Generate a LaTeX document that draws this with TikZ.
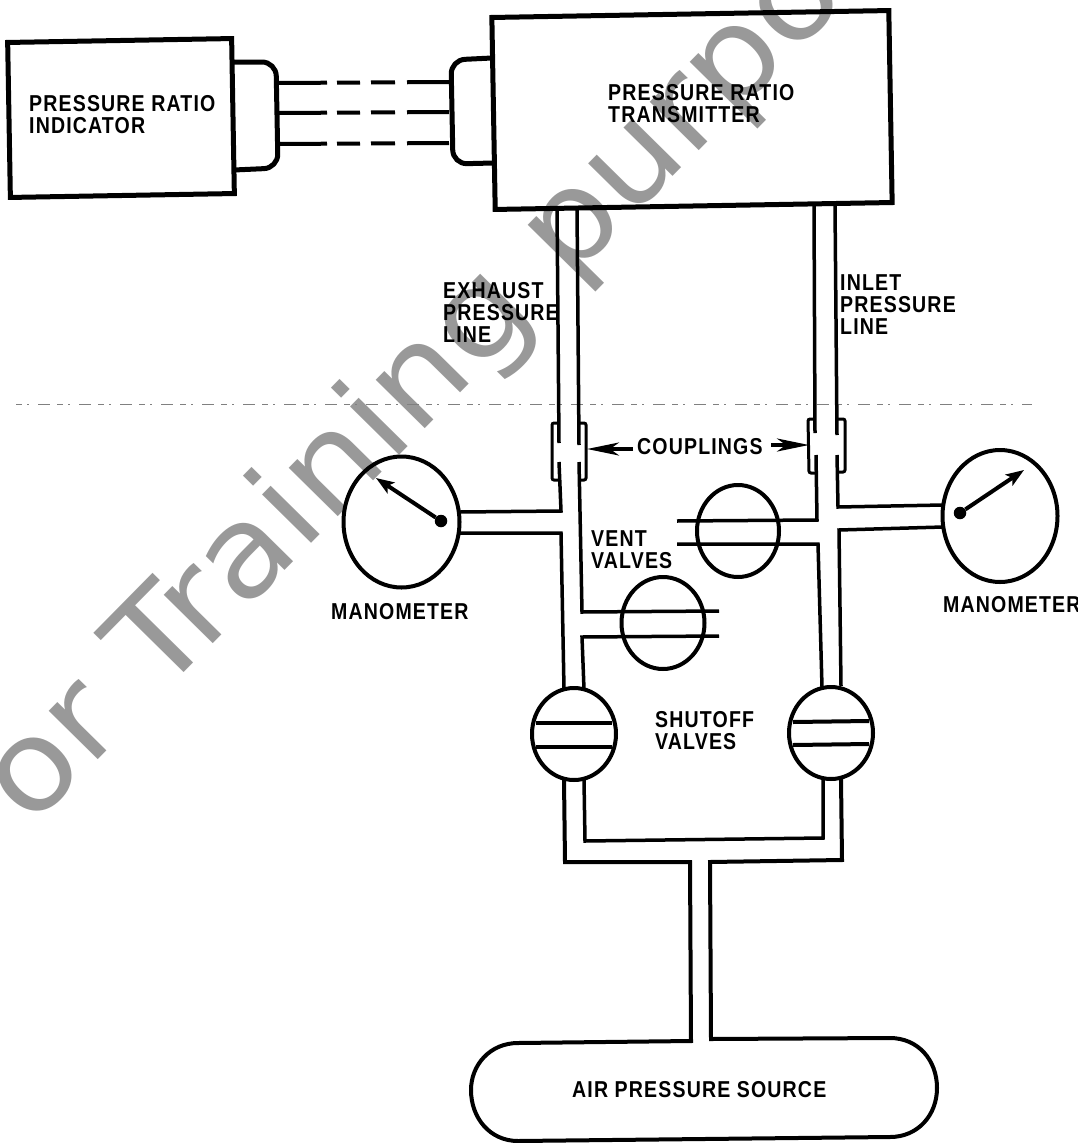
\documentclass[tikz,border=0pt]{standalone}
\usepackage{fontspec}
\setmainfont{Liberation Sans}
\newfontfamily\labfont[FakeStretch=0.85,LetterSpace=5]{Liberation Sans}
\newfontfamily\markfont[FakeStretch=1.085]{DejaVu Sans}
\usetikzlibrary{shapes.geometric,arrows.meta}
\definecolor{wm}{HTML}{999999}
\tikzset{
  x=1pt,y=-1pt,
  boxshape/.style={draw=black,line width=5pt,inner sep=0pt,rotate=1,line join=miter},
  stub/.style={draw=black,line width=5pt,rounded corners=14pt},
  wire/.style={draw=black,line width=4pt,dash pattern=on 50pt off 10pt on 23pt off 11pt on 24pt off 12pt on 42pt},
  pipe/.style={draw=black,line width=3.5pt,line join=miter},
  collar/.style={draw=black,line width=3pt,rounded corners=2pt},
  valve/.style={draw=black,ellipse,line width=4pt,inner sep=0pt},
  plate/.style={draw=black,line width=4pt},
  label/.style={font=\labfont\bfseries\fontsize{23}{22}\selectfont,align=left,inner sep=0pt,anchor=west},
  pointer/.style={draw=black,line width=3.5pt,-{Stealth[length=32pt,width=13pt,inset=9pt]}},
  needle/.style={draw=black,line width=4pt,-{Stealth[length=18pt,width=13pt,inset=4pt]}},
  pivot/.style={circle,fill=black,inner sep=0pt,minimum size=12.5pt},
  scanline/.style={draw=black!50,line width=0.6pt,dash pattern=on 6pt off 5pt on 2pt off 9pt on 12pt off 7pt},
}
\begin{document}
\begin{tikzpicture}
\useasboundingbox (0,0) rectangle (1078,1143);
\begin{scope}
\clip (0,0) rectangle (1078,1143);
\node[text=wm,anchor=base west,inner sep=0pt,rotate=45.4,font=\markfont\fontsize{126}{126}\selectfont] (mark) at (-21,881) {For Training purposes};
\end{scope}
% scan line
\coordinate (sa) at (16,404); \coordinate (sb) at (1032,404);
\draw[scanline] (sa) -- (sb);
% boxes
\node[boxshape,minimum width=224pt,minimum height=155pt] (ind) at (121,118) {};
\node[boxshape,minimum width=397pt,minimum height=192pt] (tra) at (692,110) {};
\node[label] (tind) at (29,115) {PRESSURE RATIO\\INDICATOR};
\node[label] (ttra) at (608,104) {PRESSURE RATIO\\TRANSMITTER};
% plugs
\coordinate (p1) at (234,62); \coordinate (p2) at (276,62); \coordinate (p3) at (278,168); \coordinate (p4) at (234,170);
\draw[stub] (p1) -- (p2) -- (p3) -- (p4);
\coordinate (q1) at (492,58); \coordinate (q2) at (451,60); \coordinate (q3) at (453,164); \coordinate (q4) at (493,163);
\draw[stub] (q1) -- (q2) -- (q3) -- (q4);
% wires
\foreach \n/\y in {a/83,b/113,c/144}{
  \coordinate (w\n1) at (277,\y); \coordinate (w\n2) at (451,\y-1);
  \draw[wire] (w\n1) -- (w\n2);
}
% exhaust pipe
\coordinate (e1) at (557,208); \coordinate (e2) at (559,443);
\coordinate (e3) at (559,462); \coordinate (e4) at (561,511); \coordinate (e5) at (460,512);
\draw[pipe] (e1) -- (e2);
\draw[pipe] (e3) -- (e4) -- (e5);
\coordinate (f1) at (460,533); \coordinate (f2) at (561,533); \coordinate (f3) at (564,689);
\draw[pipe] (f1) -- (f2) -- (f3);
\coordinate (g1) at (577,208); \coordinate (g2) at (579,445);
\coordinate (g3) at (579,462); \coordinate (g4) at (582,612); \coordinate (g5) at (719,611);
\draw[pipe] (g1) -- (g2);
\draw[pipe] (g3) -- (g4) -- (g5);
\coordinate (h1) at (719,636); \coordinate (h2) at (582,637); \coordinate (h3) at (584,689);
\draw[pipe] (h1) -- (h2) -- (h3);
% inlet pipe
\coordinate (i1) at (814,205); \coordinate (i2) at (815,433);
\coordinate (i3) at (816,455); \coordinate (i4) at (817,520); \coordinate (i5) at (677,521);
\draw[pipe] (i1) -- (i2);
\draw[pipe] (i3) -- (i4) -- (i5);
\coordinate (j1) at (677,544); \coordinate (j2) at (818,544); \coordinate (j3) at (822,687);
\draw[pipe] (j1) -- (j2) -- (j3);
\coordinate (k1) at (835,205); \coordinate (k2) at (837,435);
\coordinate (k3) at (837,455); \coordinate (k4) at (838,507); \coordinate (k5) at (943,505);
\draw[pipe] (k1) -- (k2);
\draw[pipe] (k3) -- (k4) -- (k5);
\coordinate (l1) at (943,527); \coordinate (l2) at (839,530); \coordinate (l3) at (841,686);
\draw[pipe] (l1) -- (l2) -- (l3);
% couplings
\coordinate (c1) at (559,423); \coordinate (c2) at (552,423); \coordinate (c3) at (552,480); \coordinate (c4) at (560,480);
\draw[collar] (c1) -- (c2) -- (c3) -- (c4);
\coordinate (c5) at (579,423); \coordinate (c6) at (586,423); \coordinate (c7) at (586,480); \coordinate (c8) at (580,480);
\draw[collar] (c5) -- (c6) -- (c7) -- (c8);
\coordinate (d1) at (815,419); \coordinate (d2) at (808,419); \coordinate (d3) at (809,473); \coordinate (d4) at (816,473);
\draw[collar] (d1) -- (d2) -- (d3) -- (d4);
\coordinate (d5) at (837,419); \coordinate (d6) at (845,419); \coordinate (d7) at (845,472); \coordinate (d8) at (838,472);
\draw[collar] (d5) -- (d6) -- (d7) -- (d8);
% coupling label
\node[label] (tcou) at (637,447) {COUPLINGS};
\coordinate (ct1) at (587,449); \coordinate (ct2) at (809,445); \coordinate (cs2) at (771,445);
\draw[pointer] (tcou.west) ++(-4,2) -- (ct1);
\draw[pointer] (cs2) -- (ct2);
% manometers
\node[valve,minimum width=116pt,minimum height=131pt] (mL) at (401.5,522) {};
\node[valve,minimum width=115pt,minimum height=132pt] (mR) at (1000,516) {};
\node[pivot] (dL) at (441,521) {};
\node[pivot] (dR) at (960,513) {};
\coordinate (tL) at (376,478); \coordinate (tR) at (1024,470);
\draw[needle] (dL) -- (tL);
\draw[needle] (dR) -- (tR);
% vent valves
\node[valve,minimum width=83pt,minimum height=92pt] (vL) at (663,623) {};
\node[valve,minimum width=82pt,minimum height=92pt] (vR) at (738,531) {};
% shutoff valves
\node[valve,minimum width=84pt,minimum height=92pt] (sL) at (574,734) {};
\node[valve,minimum width=84pt,minimum height=92pt] (sR) at (831,733) {};
\coordinate (sa1) at (536,723); \coordinate (sa2) at (612,723);
\coordinate (sb1) at (536,747); \coordinate (sb2) at (612,747);
\draw[plate] (sa1) -- (sa2);
\draw[plate] (sb1) -- (sb2);
\coordinate (sc1) at (793,722); \coordinate (sc2) at (869,721);
\coordinate (sd1) at (793,745); \coordinate (sd2) at (869,744);
\draw[plate] (sc1) -- (sc2);
\draw[plate] (sd1) -- (sd2);
% manifold
\coordinate (m1) at (584,780); \coordinate (m2) at (585,841); \coordinate (m3) at (823,838); \coordinate (m4) at (823,779);
\draw[pipe] (m1) -- (m2) -- (m3) -- (m4);
\coordinate (n1) at (564,780); \coordinate (n2) at (565,862); \coordinate (n3) at (690,862);
\coordinate (o1) at (841,779); \coordinate (o2) at (842,860); \coordinate (o3) at (710,862);
% source with feed pipes
\draw[pipe,line width=4pt] (n1) -- (n2) -- (n3) -- (691,1041) -- (518,1043)
   .. controls (490,1043) and (471,1065) .. (471,1090)
   .. controls (471,1118) and (490,1141) .. (518,1141)
   -- (890,1137)
   .. controls (918,1137) and (937,1115) .. (937,1088)
   .. controls (937,1060) and (918,1038) .. (890,1038)
   -- (711,1039) -- (o3) -- (o2) -- (o1);
% labels
\node[label] (tex) at (443,312) {EXHAUST\\PRESSURE\\LINE};
\node[label] (tin) at (840,305) {INLET\\PRESSURE\\LINE};
\node[label] (tml) at (331,612) {MANOMETER};
\node[label] (tmr) at (943,605) {MANOMETER};
\node[label] (tve) at (591,550) {VENT\\VALVES};
\node[label] (tsh) at (655,731) {SHUTOFF\\VALVES};
\node[label] (tai) at (572,1090) {AIR PRESSURE SOURCE};
\end{tikzpicture}
\end{document}
